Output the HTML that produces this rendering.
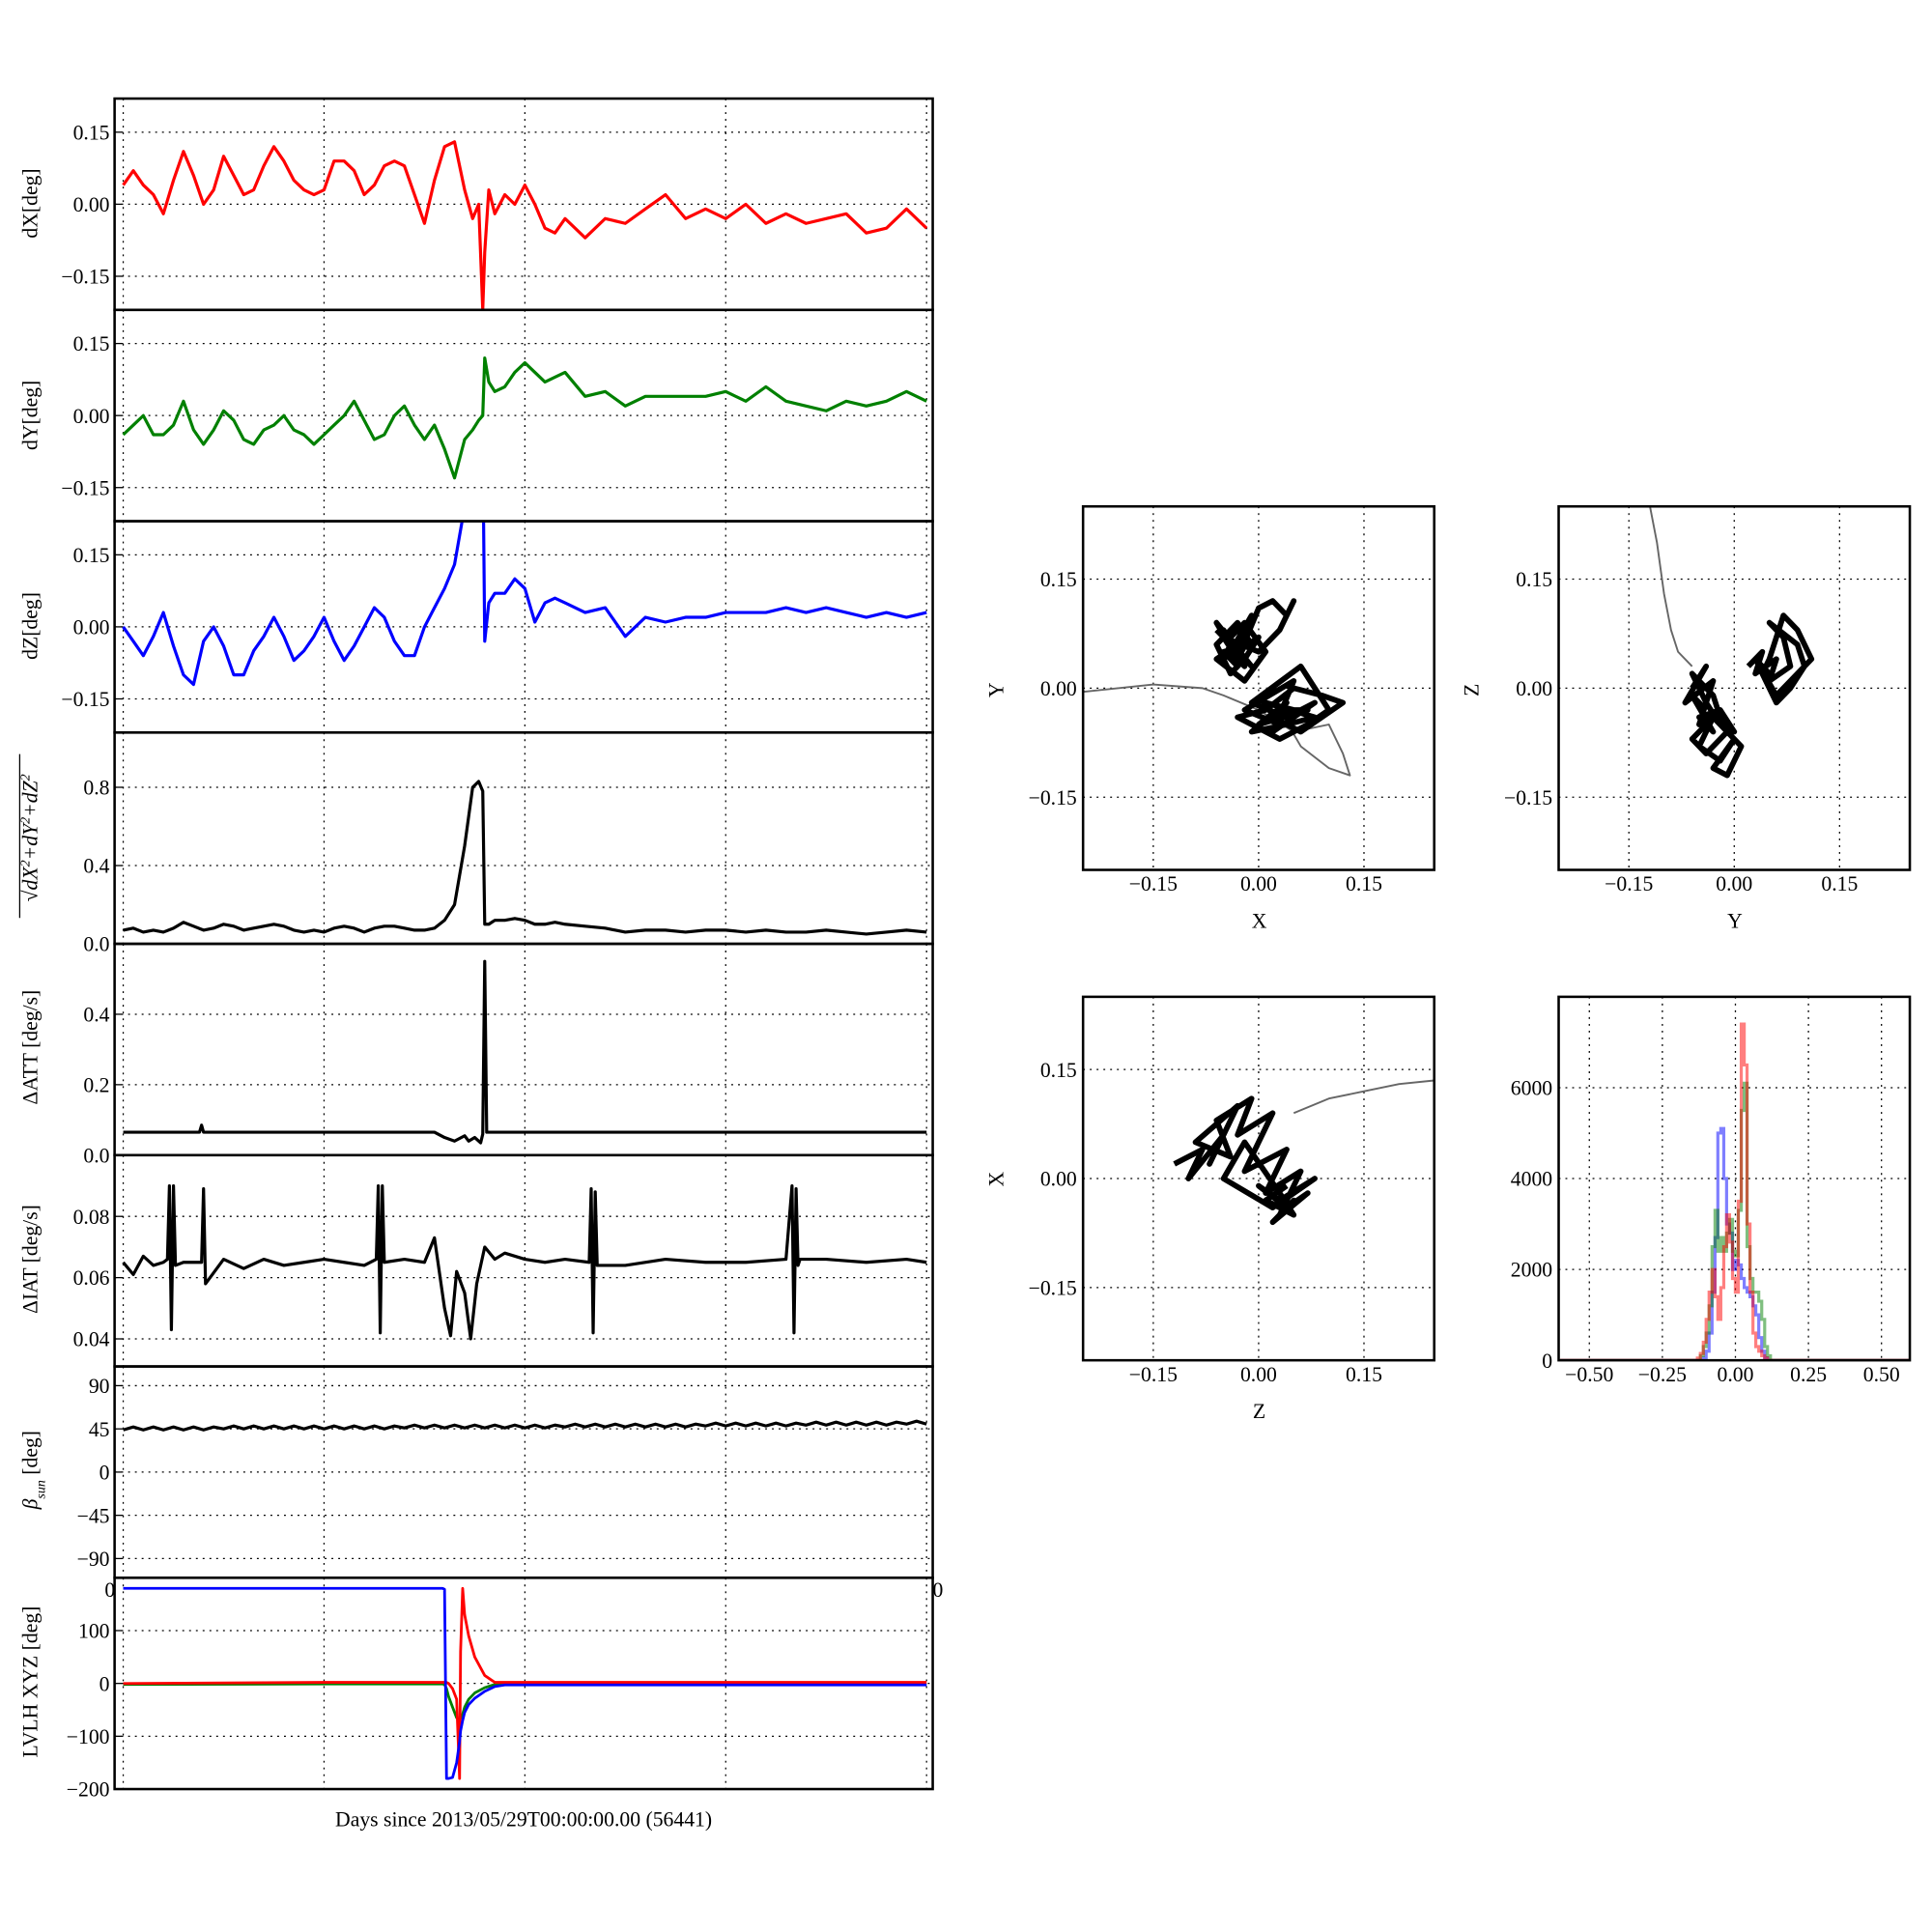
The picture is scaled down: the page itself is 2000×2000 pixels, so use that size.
<!DOCTYPE html>
<html><head><meta charset="utf-8"><style>
html,body{margin:0;padding:0;background:#fff;}
svg{display:block;font-family:"Liberation Serif",serif;}
</style></head><body>
<svg id="fig" width="2000" height="2000" viewBox="0 0 1568 1568" xmlns="http://www.w3.org/2000/svg"></svg>
<script>
// ---------- time-series data ----------
const tA=[0,0.05,0.1,0.15,0.2,0.25,0.3,0.35,0.4,0.45,0.5,0.55,0.6,0.65,0.7,0.75,0.8,0.85,0.9,0.95,1.0,1.05,1.1,1.15,1.2,1.25,1.3,1.35,1.4,1.45,1.5,1.55,1.6,1.65,1.7,1.74,1.77,1.79,1.8,1.82,1.85,1.9,1.95,2.0,2.05,2.1,2.15,2.2,2.3,2.4,2.5,2.6,2.7,2.8,2.9,3.0,3.1,3.2,3.3,3.4,3.5,3.6,3.7,3.8,3.9,4.0];
const dXv=[0.04,0.07,0.04,0.02,-0.02,0.05,0.11,0.06,0.0,0.03,0.1,0.06,0.02,0.03,0.08,0.12,0.09,0.05,0.03,0.02,0.03,0.09,0.09,0.07,0.02,0.04,0.08,0.09,0.08,0.02,-0.04,0.05,0.12,0.13,0.03,-0.03,0.0,-0.22,-0.1,0.03,-0.02,0.02,0.0,0.04,0.0,-0.05,-0.06,-0.03,-0.07,-0.03,-0.04,-0.01,0.02,-0.03,-0.01,-0.03,0.0,-0.04,-0.02,-0.04,-0.03,-0.02,-0.06,-0.05,-0.01,-0.05];
const dYv=[-0.04,-0.02,0.0,-0.04,-0.04,-0.02,0.03,-0.03,-0.06,-0.03,0.01,-0.01,-0.05,-0.06,-0.03,-0.02,0.0,-0.03,-0.04,-0.06,-0.04,-0.02,0.0,0.03,-0.01,-0.05,-0.04,0.0,0.02,-0.02,-0.05,-0.02,-0.07,-0.13,-0.05,-0.03,-0.01,0.0,0.12,0.07,0.05,0.06,0.09,0.11,0.09,0.07,0.08,0.09,0.04,0.05,0.02,0.04,0.04,0.04,0.04,0.05,0.03,0.06,0.03,0.02,0.01,0.03,0.02,0.03,0.05,0.03];
const dZv=[0.0,-0.03,-0.06,-0.02,0.03,-0.04,-0.1,-0.12,-0.03,0.0,-0.04,-0.1,-0.1,-0.05,-0.02,0.02,-0.02,-0.07,-0.05,-0.02,0.02,-0.03,-0.07,-0.04,0.0,0.04,0.02,-0.03,-0.06,-0.06,0.0,0.04,0.08,0.13,0.25,0.4,0.4,0.4,-0.03,0.05,0.07,0.07,0.1,0.08,0.01,0.05,0.06,0.05,0.03,0.04,-0.02,0.02,0.01,0.02,0.02,0.03,0.03,0.03,0.04,0.03,0.04,0.03,0.02,0.03,0.02,0.03];
const magV=[0.07,0.08,0.06,0.07,0.06,0.08,0.11,0.09,0.07,0.08,0.1,0.09,0.07,0.08,0.09,0.1,0.09,0.07,0.06,0.07,0.06,0.08,0.09,0.08,0.06,0.08,0.09,0.09,0.08,0.07,0.07,0.08,0.12,0.2,0.5,0.8,0.83,0.78,0.1,0.1,0.12,0.12,0.13,0.12,0.1,0.1,0.11,0.1,0.09,0.08,0.06,0.07,0.07,0.06,0.07,0.07,0.06,0.07,0.06,0.06,0.07,0.06,0.05,0.06,0.07,0.06];
const attT=[0,0.38,0.39,0.4,0.41,1.55,1.6,1.65,1.7,1.72,1.75,1.78,1.79,1.8,1.81,1.83,2.0,4.0];
const attV=[0.065,0.065,0.085,0.065,0.065,0.065,0.05,0.04,0.055,0.04,0.05,0.035,0.06,0.55,0.065,0.065,0.065,0.065];
const iatT=[0,0.05,0.1,0.15,0.2,0.22,0.23,0.24,0.25,0.26,0.3,0.39,0.4,0.41,0.5,0.6,0.7,0.8,0.9,1.0,1.1,1.2,1.26,1.27,1.28,1.29,1.3,1.4,1.5,1.55,1.6,1.63,1.66,1.7,1.73,1.76,1.8,1.85,1.9,2.0,2.1,2.2,2.32,2.33,2.34,2.35,2.36,2.5,2.7,2.9,3.1,3.3,3.33,3.34,3.35,3.36,3.37,3.5,3.7,3.9,4.0];
const iatV=[0.065,0.061,0.067,0.064,0.065,0.066,0.09,0.043,0.09,0.064,0.065,0.065,0.089,0.058,0.066,0.063,0.066,0.064,0.065,0.066,0.065,0.064,0.066,0.09,0.042,0.09,0.065,0.066,0.065,0.073,0.05,0.041,0.062,0.055,0.04,0.058,0.07,0.066,0.068,0.066,0.065,0.066,0.065,0.089,0.042,0.088,0.064,0.064,0.066,0.065,0.065,0.066,0.09,0.042,0.089,0.064,0.066,0.066,0.065,0.066,0.065];
const betaT=[0,0.05,0.1,0.15,0.2,0.25,0.3,0.35,0.4,0.45,0.5,0.55,0.6,0.65,0.7,0.75,0.8,0.85,0.9,0.95,1.0,1.05,1.1,1.15,1.2,1.25,1.3,1.35,1.4,1.45,1.5,1.55,1.6,1.65,1.7,1.75,1.8,1.85,1.9,1.95,2.0,2.05,2.1,2.15,2.2,2.25,2.3,2.35,2.4,2.45,2.5,2.55,2.6,2.65,2.7,2.75,2.8,2.85,2.9,2.95,3.0,3.05,3.1,3.15,3.2,3.25,3.3,3.35,3.4,3.45,3.5,3.55,3.6,3.65,3.7,3.75,3.8,3.85,3.9,3.95,4.0];
const betaV=[44,47,44,47,44,47,44,47,44,47,45,48,45,48,45,48,45,48,45,48,45,48,45,48,45,48,45,48,46,49,46,49,46,49,46,49,46,49,46,49,46,49,46,49,47,50,47,50,47,50,47,50,47,50,47,50,47,50,48,51,48,51,48,51,48,51,48,51,49,52,49,52,49,52,49,52,49,52,50,53,50];
const lvT=[0,1.0,1.59,1.6,1.61,1.62,1.64,1.66,1.675,1.68,1.69,1.7,1.72,1.75,1.8,1.85,1.9,2.0,4.0];
const lvBlue=[180,180,180,178,-180,-180,-178,-150,-110,-90,-70,-55,-40,-28,-15,-6,-3,-3,-3];
const lvRed=[0,2,2,2,2,0,-10,-30,-180,60,180,130,90,50,15,2,2,2,2];
const lvGreen=[-2,-1,-1,-2,-10,-25,-45,-65,-70,-66,-58,-45,-30,-18,-8,-2,-1,-1,-1];
// ---------- scatter data ----------
const xyCloudAX=[-0.06,-0.04,-0.05,-0.02,-0.03,-0.05,-0.01,-0.03,-0.06,-0.04,-0.02,0.0,-0.03,-0.05,-0.02,-0.04,-0.01,-0.03,-0.06,-0.02,0.01,-0.02,-0.04,-0.03,0.0,0.02,0.04,0.05,0.03,0.0,-0.05,-0.03,-0.06,-0.01,-0.04,-0.02];
const xyCloudAY=[0.08,0.06,0.04,0.07,0.03,0.05,0.06,0.09,0.06,0.02,0.04,0.07,0.05,0.08,0.03,0.05,0.1,0.06,0.04,0.01,0.05,0.09,0.07,0.04,0.11,0.12,0.1,0.12,0.08,0.05,0.07,0.04,0.09,0.03,0.06,0.05];
const xyCloudBX=[0.0,0.03,-0.02,0.05,0.02,0.08,0.04,-0.01,0.06,0.1,0.07,0.03,-0.03,0.01,0.05,0.09,0.12,0.06,0.02,0.04,0.0,0.07,0.03,-0.01,0.04,0.08,0.01,0.05,0.02];
const xyCloudBY=[-0.01,-0.05,-0.03,0.01,-0.06,-0.02,-0.04,-0.02,0.03,-0.03,-0.05,-0.07,-0.04,-0.03,0.0,-0.01,-0.02,-0.06,-0.04,-0.02,-0.05,-0.03,-0.03,-0.06,-0.05,-0.04,-0.02,-0.03,-0.04];
const xyTrailX=[0.03,0.06,0.1,0.13,0.12,0.1,0.05,0.0,-0.05,-0.08,-0.15,-0.25];
const xyTrailY=[-0.03,-0.08,-0.11,-0.12,-0.09,-0.05,-0.06,-0.03,-0.01,0.0,0.005,-0.005];
const yzTrailX=[-0.12,-0.11,-0.1,-0.09,-0.08,-0.06];
const yzTrailY=[0.25,0.2,0.13,0.08,0.05,0.03];
const yzCloudAX=[-0.06,-0.04,-0.07,-0.03,-0.05,-0.02,-0.06,-0.04,-0.01,-0.03,-0.05,-0.02,0.0,-0.03,-0.01,0.01,-0.02,-0.04,-0.06,-0.03,-0.02,0.0,-0.02,-0.05,-0.03,-0.06,-0.04];
const yzCloudAY=[0.0,0.03,-0.02,0.01,-0.05,-0.03,-0.07,-0.09,-0.06,-0.04,-0.08,-0.1,-0.07,-0.11,-0.12,-0.08,-0.05,-0.02,0.02,-0.01,-0.04,-0.06,-0.03,-0.04,-0.06,-0.01,-0.03];
const yzCloudBX=[0.02,0.04,0.03,0.06,0.05,0.08,0.07,0.05,0.09,0.1,0.08,0.06,0.04,0.05,0.07,0.09,0.11,0.08,0.06,0.03,0.05,0.04];
const yzCloudBY=[0.03,0.05,0.02,0.04,0.01,0.03,0.07,0.09,0.06,0.03,0.0,-0.02,0.02,0.04,0.1,0.08,0.04,0.01,-0.01,0.04,0.02,0.03];
const zxCloudX=[-0.12,-0.08,-0.1,-0.05,-0.07,-0.03,-0.09,-0.04,-0.06,-0.01,-0.03,0.02,-0.02,0.04,0.01,0.06,0.03,0.05,0.02,0.07,0.04,0.0,0.03,0.08,0.05,0.02,-0.05,-0.02,0.03,0.05,0.01,0.04];
const zxCloudY=[0.02,0.04,0.0,0.06,0.02,0.1,0.05,0.03,0.08,0.11,0.06,0.09,0.01,0.04,-0.02,0.01,-0.05,-0.03,-0.06,-0.02,-0.04,-0.01,-0.03,0.0,-0.02,-0.04,0.0,0.05,-0.02,-0.05,-0.03,-0.01];
const zxTrailX=[0.05,0.1,0.15,0.2,0.25];
const zxTrailY=[0.09,0.11,0.12,0.13,0.135];
// ---------- histogram data ----------
const histEdges=[-0.15,-0.14,-0.13,-0.12,-0.11,-0.1,-0.09,-0.08,-0.07,-0.06,-0.05,-0.04,-0.03,-0.02,-0.01,0.0,0.01,0.02,0.03,0.04,0.05,0.06,0.07,0.08,0.09,0.1,0.11,0.12,0.13,0.14,0.15];
const histRed=[0,0,50,150,400,900,1500,2000,1400,900,1600,2500,3200,2600,1800,1500,3500,7400,6500,3000,1500,600,300,200,100,50,0,0,0,0];
const histBlue=[0,0,0,0,50,200,600,1500,2700,5000,5100,4000,3000,2800,2000,2200,2100,1800,1600,1500,1400,1200,1000,500,200,50,0,0,0,0];
const histGreen=[0,0,0,100,300,600,1200,2500,3300,2400,2700,2400,2800,3100,2400,2300,3300,5500,6100,2500,1800,1500,1500,1300,900,300,100,0,0,0];

const NS="http://www.w3.org/2000/svg";
const svg=document.getElementById('fig');
function mk(tag,attrs,parent,name){
  const el=document.createElementNS(NS,tag);
  for(const k in attrs) el.setAttribute(k,attrs[k]);
  
  
  (parent||svg).appendChild(el);
  return el;
}
function txt(s,x,y,attrs,name){const t=mk('text',Object.assign({x:x,y:y,'font-size':17},attrs||{}),svg,name);t.textContent=s;return t;}

const xL=93,xR=757,H=171.5;
const tx=t=>100+163*t;
function panel(i,ymin,ymax,ticks,labels,name){
  const top=80+i*H, bot=top+H;
  const sy=v=>top+(ymax-v)/(ymax-ymin)*H;
  const g=mk('g',{},svg,name+'-panel');
  const cp=mk('clipPath',{id:'cp'+i},g,name+'-clip');
  mk('rect',{x:xL,y:top,width:xR-xL,height:H},cp,name+'-clip-rect');
  for(let d=0;d<=4;d++) mk('line',{x1:tx(d),x2:tx(d),y1:top,y2:bot,stroke:'#000','stroke-width':1,'stroke-dasharray':'1.5,4'},g,name+'-x-grid');
  ticks.forEach((v,j)=>{
    const y=sy(v);
    mk('line',{x1:xL,x2:xR,y1:y,y2:y,stroke:'#000','stroke-width':1,'stroke-dasharray':'1.5,4'},g,name+'-y-grid');
    mk('line',{x1:xL,x2:xL+6,y1:y,y2:y,stroke:'#000','stroke-width':1},g,name+'-y-tick');
    txt(labels[j],xL-4,y+6,{'text-anchor':'end'},name+'-y-tick-label');
  });
  return {g,sy,top,bot,clip:'url(#cp'+i+')'};
}
function line(p,ts,vs,color,w,name){
  let d='';ts.forEach((t,k)=>{d+=(k?'L':'M')+tx(t).toFixed(1)+','+p.sy(vs[k]).toFixed(1);});
  mk('path',{d:d,fill:'none',stroke:color,'stroke-width':w,'stroke-linejoin':'round','clip-path':p.clip},p.g,name);
}
function frame(p,name){mk('rect',{x:xL,y:p.top,width:xR-xL,height:H,fill:'none',stroke:'#000','stroke-width':2},p.g,name+'-frame');}
function ylab(s,y,name,extra){return txt(s,0,0,Object.assign({transform:'translate(30,'+y+') rotate(-90)','text-anchor':'middle'},extra||{}),name);}

const L3=["\u22120.15","0.00","0.15"];
let p=panel(0,-0.22,0.22,[-0.15,0,0.15],L3,'dx');line(p,tA,dXv,'#ff0000',2.5,'dx-line');frame(p,'dx');ylab('dX[deg]',165,'dx-y-axis-title');
p=panel(1,-0.22,0.22,[-0.15,0,0.15],L3,'dy');line(p,tA,dYv,'#008000',2.5,'dy-line');frame(p,'dy');ylab('dY[deg]',337,'dy-y-axis-title');
p=panel(2,-0.22,0.22,[-0.15,0,0.15],L3,'dz');line(p,tA,dZv,'#0000ff',2.5,'dz-line');frame(p,'dz');ylab('dZ[deg]',508,'dz-y-axis-title');
p=panel(3,0,1.08,[0,0.4,0.8],["0.0","0.4","0.8"],'mag');line(p,tA,magV,'#000',2.5,'mag-line');frame(p,'mag');
{const t=ylab('',680,'mag-y-axis-title',{'font-style':'italic'});t.innerHTML='\u221A<tspan font-style="italic">dX</tspan><tspan baseline-shift="super" font-size="11">2</tspan>+<tspan>dY</tspan><tspan baseline-shift="super" font-size="11">2</tspan>+<tspan>dZ</tspan><tspan baseline-shift="super" font-size="11">2</tspan>';}
mk('line',{x1:16,x2:16,y1:745,y2:612,stroke:'#000','stroke-width':1},svg,'sqrt-overbar');
p=panel(4,0,0.6,[0,0.2,0.4],["0.0","0.2","0.4"],'datt');line(p,attT,attV,'#000',2.5,'datt-line');frame(p,'datt');ylab('\u0394ATT [deg/s]',850,'datt-y-axis-title');
p=panel(5,0.031,0.1,[0.04,0.06,0.08],["0.04","0.06","0.08"],'diat');line(p,iatT,iatV,'#000',2.5,'diat-line');frame(p,'diat');ylab('\u0394IAT [deg/s]',1022,'diat-y-axis-title');
p=panel(6,-110,110,[-90,-45,0,45,90],["\u221290","\u221245","0","45","90"],'beta');line(p,betaT,betaV,'#000',2.5,'beta-line');frame(p,'beta');
{const t=ylab('',1193,'beta-y-axis-title');t.innerHTML='<tspan font-style="italic">\u03B2</tspan><tspan font-style="italic" font-size="11" baseline-shift="sub">sun</tspan> [deg]';}
p=panel(7,-200,200,[-200,-100,0,100],["\u2212200","\u2212100","0","100"],'lvlh');
line(p,lvT,lvGreen,'#008000',2.2,'lvlh-green-line');line(p,lvT,lvRed,'#ff0000',2.2,'lvlh-red-line');line(p,lvT,lvBlue,'#0000ff',2.2,'lvlh-blue-line');frame(p,'lvlh');
ylab('LVLH XYZ [deg]',1365,'lvlh-y-axis-title');
txt('0',85,1296,{},'lvlh-clipped-tick-left');txt('0',757,1296,{},'lvlh-clipped-tick-right');
txt('Days since 2013/05/29T00:00:00.00 (56441)',425,1482,{'text-anchor':'middle'},'x-axis-title');

function box(x0,y0,xmin,xmax,ymin,ymax,xt,xl,yt,yl,name){
  const W=285,Hh=295;
  const sx=v=>x0+(v-xmin)/(xmax-xmin)*W, sy=v=>y0+(ymax-v)/(ymax-ymin)*Hh;
  const g=mk('g',{},svg,name);
  const id='c'+name;const cp=mk('clipPath',{id:id},g,name+'-clip');
  mk('rect',{x:x0,y:y0,width:W,height:Hh},cp,name+'-clip-rect');
  xt.forEach((v,j)=>{mk('line',{x1:sx(v),x2:sx(v),y1:y0,y2:y0+Hh,stroke:'#000','stroke-width':1,'stroke-dasharray':'1.5,4'},g,name+'-x-grid');
    txt(xl[j],sx(v),y0+Hh+17,{'text-anchor':'middle'},name+'-x-tick-label');});
  yt.forEach((v,j)=>{mk('line',{x1:x0,x2:x0+W,y1:sy(v),y2:sy(v),stroke:'#000','stroke-width':1,'stroke-dasharray':'1.5,4'},g,name+'-y-grid');
    txt(yl[j],x0-5,sy(v)+6,{'text-anchor':'end'},name+'-y-tick-label');});
  return {g,sx,sy,clip:'url(#'+id+')',x0,y0,W,Hh};
}
function spath(b,xs,ys,col,w,name){let d='';xs.forEach((x,k)=>{d+=(k?'L':'M')+b.sx(x).toFixed(1)+','+b.sy(ys[k]).toFixed(1);});
  mk('path',{d:d,fill:'none',stroke:col,'stroke-width':w,'stroke-linejoin':'round','clip-path':b.clip},b.g,name);}
function bframe(b,name){mk('rect',{x:b.x0,y:b.y0,width:b.W,height:b.Hh,fill:'none',stroke:'#000','stroke-width':2},b.g,name+'-frame');}
const S3=[-0.15,0,0.15];
let b=box(879,411,-0.25,0.25,-0.25,0.25,S3,L3,S3,L3,'xy-scatter');
spath(b,xyTrailX,xyTrailY,'#666',1.5,'xy-trail');spath(b,xyCloudAX,xyCloudAY,'#000',4.5,'xy-cloud-a');spath(b,xyCloudBX,xyCloudBY,'#000',4.5,'xy-cloud-b');bframe(b,'xy');
txt('X',1022,753,{'text-anchor':'middle'},'xy-x-axis-title');txt('Y',0,0,{transform:'translate(814,560) rotate(-90)','text-anchor':'middle'},'xy-y-axis-title');
b=box(1265,411,-0.25,0.25,-0.25,0.25,S3,L3,S3,L3,'yz-scatter');
spath(b,yzTrailX,yzTrailY,'#666',1.5,'yz-trail');spath(b,yzCloudAX,yzCloudAY,'#000',4.5,'yz-cloud-a');spath(b,yzCloudBX,yzCloudBY,'#000',4.5,'yz-cloud-b');bframe(b,'yz');
txt('Y',1408,753,{'text-anchor':'middle'},'yz-x-axis-title');txt('Z',0,0,{transform:'translate(1200,560) rotate(-90)','text-anchor':'middle'},'yz-y-axis-title');
b=box(879,809,-0.25,0.25,-0.25,0.25,S3,L3,S3,L3,'zx-scatter');
spath(b,zxTrailX,zxTrailY,'#666',1.5,'zx-trail');spath(b,zxCloudX,zxCloudY,'#000',4.5,'zx-cloud');bframe(b,'zx');
txt('Z',1022,1151,{'text-anchor':'middle'},'zx-x-axis-title');txt('X',0,0,{transform:'translate(814,957) rotate(-90)','text-anchor':'middle'},'zx-y-axis-title');
b=box(1265,809,-0.605,0.597,0,8000,[-0.5,-0.25,0,0.25,0.5],["\u22120.50","\u22120.25","0.00","0.25","0.50"],[0,2000,4000,6000],["0","2000","4000","6000"],'histogram');
function hist(b,counts,col,name){let d='M'+b.sx(-0.6)+','+b.sy(0)+'L'+b.sx(histEdges[0])+','+b.sy(0);
  counts.forEach((c,k)=>{d+='L'+b.sx(histEdges[k]).toFixed(1)+','+b.sy(c).toFixed(1)+'L'+b.sx(histEdges[k+1]).toFixed(1)+','+b.sy(c).toFixed(1);});
  d+='L'+b.sx(histEdges[histEdges.length-1])+','+b.sy(0)+'L'+b.sx(0.6)+','+b.sy(0);
  mk('path',{d:d,fill:'none',stroke:col,'stroke-width':2.5,'stroke-opacity':0.5,'clip-path':b.clip},b.g,name);}
hist(b,histBlue,'#0000ff','hist-blue');hist(b,histGreen,'#008000','hist-green');hist(b,histRed,'#ff0000','hist-red');bframe(b,'hist');
</script>
</body></html>
